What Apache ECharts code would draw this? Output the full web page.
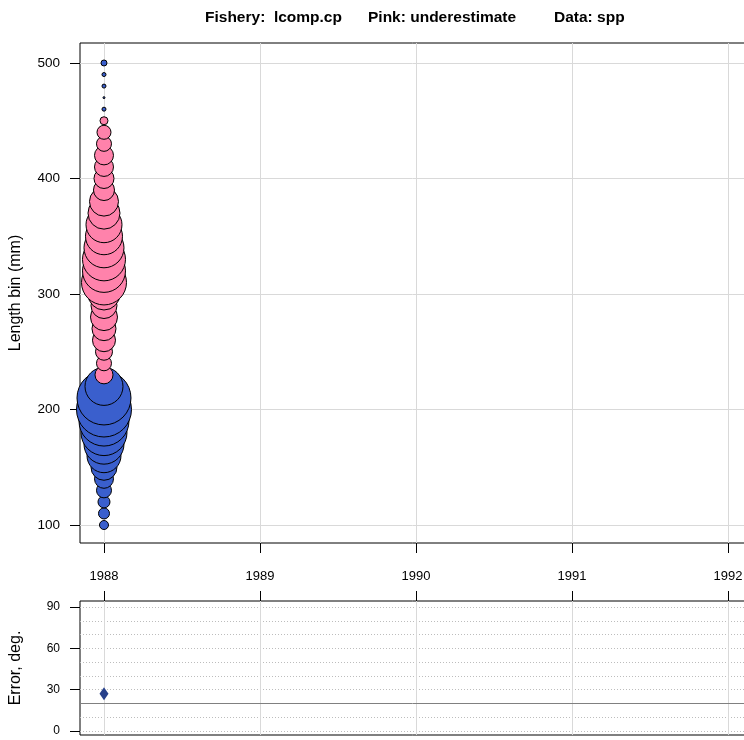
<!doctype html>
<html>
<head>
<meta charset="utf-8">
<title>lcomp.cp residuals</title>
<script src="https://cdn.jsdelivr.net/npm/echarts@6/dist/echarts.min.js"></script>
<style>
    body{margin:0;background:#fff;}
    #main{width:744px;height:740px;}
</style>
</head>
<body>
<div id="main"></div>
<script>
    // 数据
    var years = [1988, 1989, 1990, 1991, 1992];
    var lenTicks = [100, 200, 300, 400, 500];
    var errTicks = [0, 30, 60, 90];
    var errLines = [0, 10, 20, 30, 40, 50, 60, 70, 80, 90];
    var bins = [100, 110, 120, 130, 140, 150, 160, 170, 180, 190,
                200, 210, 220, 230, 240, 250, 260, 270, 280, 290,
                300, 310, 320, 330, 340, 350, 360, 370, 380, 390,
                400, 410, 420, 430, 440, 450, 460, 470, 480, 490, 500];
    // 残差: 正 = 蓝, 负 = 粉
    var resid = [0.9, 1.1, 1.2, 1.5, 1.9, 2.6, 3.4, 4.0, 4.6, 5.0,
                 5.5, 5.4, 3.8, -1.8, -1.5, -1.7, -2.3, -2.4, -2.7, -2.6,
                 -3.2, -4.5, -4.3, -4.3, -4.0, -3.7, -3.6, -3.2, -2.9, -2.1,
                 -2.0, -1.9, -1.9, -1.5, -1.4, -0.8, 0.4, 0.2, 0.4, 0.4, 0.6];
    var bubbleYear = 1988;
    var errYear = [1988];
    var errVal = [27];
    var errRef = 20;

    var blue = '#3A5FCD', pink = '#FF82AB';
    var tickFont = '"Liberation Sans", Arial';

    var bubbles = bins.map(function (b, i) { return [bubbleYear, b, resid[i]]; });
    var errPts = errYear.map(function (y, i) { return [y, errVal[i]]; });

    var myChart = echarts.init(document.getElementById('main'));
    var xMin = 1987.8462, xMax = 1992.1346;

    var option = {
        animation: false,
        graphic: [
            {type: 'text', x: 205, y: 18, style: {text: 'Fishery:  lcomp.cp', font: 'bold 15.5px "Liberation Sans", Arial', fill: '#000', verticalAlign: 'middle'}},
            {type: 'text', x: 368, y: 18, style: {text: 'Pink: underestimate', font: 'bold 15.5px "Liberation Sans", Arial', fill: '#000', verticalAlign: 'middle'}},
            {type: 'text', x: 554, y: 18, style: {text: 'Data: spp', font: 'bold 15.5px "Liberation Sans", Arial', fill: '#000', verticalAlign: 'middle'}},
            {type: 'text', x: 16, y: 293, rotation: Math.PI / 2, style: {text: 'Length bin (mm)', font: '16px "Liberation Sans", Arial', fill: '#000', align: 'center', verticalAlign: 'middle'}},
            {type: 'text', x: 16, y: 668, rotation: Math.PI / 2, style: {text: 'Error, deg.', font: '16px "Liberation Sans", Arial', fill: '#000', align: 'center', verticalAlign: 'middle'}}
        ],
        grid: [
            {left: 80, top: 43, width: 669, height: 500, outerBoundsMode: 'none', show: true, borderColor: '#000', borderWidth: 1, backgroundColor: 'transparent'},
            {left: 80, top: 601, width: 669, height: 134, outerBoundsMode: 'none', show: true, borderColor: '#000', borderWidth: 1, backgroundColor: 'transparent'}
        ],
        xAxis: [
            {
                gridIndex: 0, type: 'value', min: xMin, max: xMax, position: 'bottom',
                axisLine: {show: false, onZero: false},
                axisTick: {show: true, length: 10, customValues: years, lineStyle: {color: '#000'}},
                axisLabel: {show: false, customValues: years},
                splitLine: {show: true, lineStyle: {color: '#d9d9d9', width: 1}}
            },
            {
                gridIndex: 1, type: 'value', min: xMin, max: xMax, position: 'top',
                axisLine: {show: false, onZero: false},
                axisTick: {show: true, length: 10, customValues: years, lineStyle: {color: '#000'}},
                axisLabel: {
                    show: true, customValues: years, margin: 18, color: '#000', fontSize: 13, fontFamily: tickFont,
                    formatter: function (v) { return String(Math.round(v)); }
                },
                splitLine: {show: true, lineStyle: {color: '#d9d9d9', width: 1}}
            }
        ],
        yAxis: [
            {
                gridIndex: 0, type: 'value', min: 84.42, max: 517.3,
                axisLine: {show: false, onZero: false},
                axisTick: {show: true, length: 10, customValues: lenTicks, lineStyle: {color: '#000'}},
                axisLabel: {show: true, customValues: lenTicks, margin: 20, color: '#000', fontSize: 13.5, fontFamily: tickFont},
                splitLine: {show: true, lineStyle: {color: '#d9d9d9', width: 1}}
            },
            {
                gridIndex: 1, type: 'value', min: -2.9, max: 94.4,
                axisLine: {show: false, onZero: false},
                axisTick: {show: true, length: 10, customValues: errTicks, lineStyle: {color: '#000'}},
                axisLabel: {show: true, customValues: errTicks, margin: 20, color: '#000', fontSize: 12, fontFamily: tickFont},
                splitLine: {show: false}
            },
            {
                gridIndex: 1, type: 'value', min: -2.9, max: 94.4,
                axisLine: {show: false, onZero: false},
                axisTick: {show: false, customValues: errLines},
                axisLabel: {show: false, customValues: errLines},
                splitLine: {show: true, lineStyle: {color: '#bdbdbd', width: 1, type: [1, 2]}}
            }
        ],
        series: [
            {
                type: 'scatter', xAxisIndex: 0, yAxisIndex: 0,
                data: bubbles,
                symbol: 'circle',
                symbolSize: function (d) { return Math.abs(d[2]) * 10; },
                itemStyle: {
                    color: function (p) { return p.data[2] > 0 ? blue : pink; },
                    borderColor: '#000', borderWidth: 1, opacity: 1
                },
                silent: true
            },
            {
                type: 'scatter', xAxisIndex: 1, yAxisIndex: 1,
                data: errPts,
                symbol: 'diamond',
                symbolSize: [9, 13],
                itemStyle: {color: '#27408B', opacity: 1},
                silent: true,
                markLine: {
                    silent: true, symbol: 'none', label: {show: false},
                    lineStyle: {color: '#808080', width: 1, type: 'solid'},
                    data: [{yAxis: errRef}]
                }
            }
        ]
    };

    myChart.setOption(option);
</script>
</body>
</html>
